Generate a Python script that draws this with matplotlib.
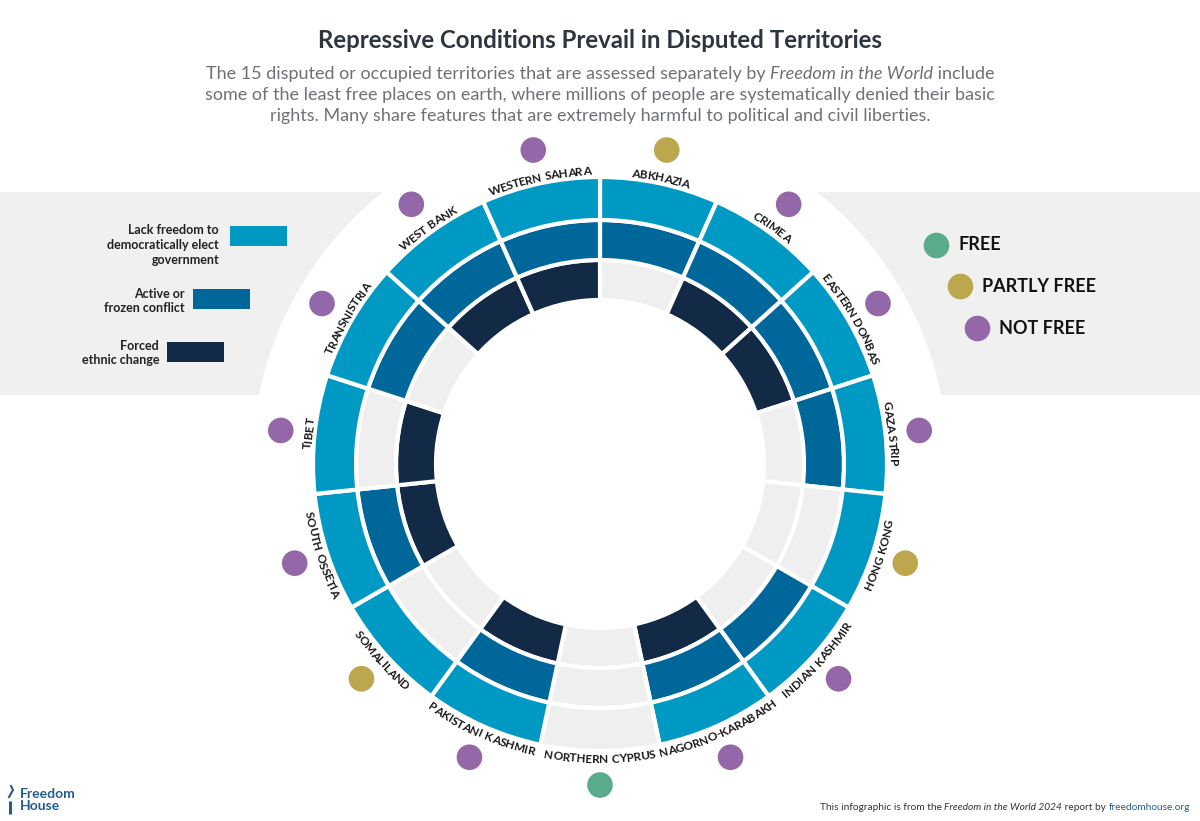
import numpy as np
import matplotlib
matplotlib.use('Agg')
import matplotlib.pyplot as plt
from matplotlib.patches import Rectangle, Circle
from matplotlib.font_manager import FontProperties

FAM = ['Lato', 'DejaVu Sans']
plt.rcParams['font.family'] = FAM

# territories clockwise from 12 o'clock
territories = ['ABKHAZIA', 'CRIMEA', 'EASTERN DONBAS', 'GAZA STRIP', 'HONG KONG',
               'INDIAN KASHMIR', 'NAGORNO-KARABAKH', 'NORTHERN CYPRUS',
               'PAKISTANI KASHMIR', 'SOMALILAND', 'SOUTH OSSETIA', 'TIBET',
               'TRANSNISTRIA', 'WEST BANK', 'WESTERN SAHARA']
lack_freedom = [1, 1, 1, 1, 1, 1, 1, 0, 1, 1, 1, 1, 1, 1, 1]
conflict     = [1, 1, 1, 1, 0, 1, 1, 0, 1, 0, 1, 0, 1, 1, 1]
ethnic       = [0, 1, 1, 0, 0, 0, 1, 0, 1, 0, 1, 1, 0, 1, 1]
status       = ['PF', 'NF', 'NF', 'NF', 'PF', 'NF', 'NF', 'F', 'NF', 'PF',
                'NF', 'NF', 'NF', 'NF', 'NF']

legend_labels = ['Lack freedom to\ndemocratically elect\ngovernment',
                 'Active or\nfrozen conflict', 'Forced\nethnic change']
status_labels = ['FREE', 'PARTLY FREE', 'NOT FREE']

LIGHT, MID, NAVY, GRAY = '#0099c4', '#00679b', '#132a47', '#efefef'
status_col = {'F': '#5aab8c', 'PF': '#bca64e', 'NF': '#9468a8'}

W, H = 1200, 821
cx, cy = 600, 464

fig = plt.figure(figsize=(12, 8.21), dpi=100)
bg = fig.add_axes([0, 0, 1, 1])
bg.set_xlim(0, W); bg.set_ylim(H, 0); bg.axis('off')
bg.add_patch(Rectangle((0, 192), W, 203, color='#f0f0f0', lw=0, zorder=0))
bg.add_patch(Circle((cx, cy), 348, color='white', lw=0, zorder=0))

renderer = fig.canvas.get_renderer()

def adv(s, fp):
    # advance width in pixels (sentinel keeps trailing spaces)
    w1 = renderer.get_text_width_height_descent(s + 'I', fp, ismath=False)[0]
    w0 = renderer.get_text_width_height_descent('I', fp, ismath=False)[0]
    return w1 - w0

def mixed_line(parts, x, y, ha='center', size=13, color='#6d7177'):
    fps = [FontProperties(family=FAM, size=size, style=st, weight=wt) for _, st, wt, _ in parts]
    widths = [adv(t, fp) for (t, _, _, _), fp in zip(parts, fps)]
    total = sum(widths)
    x0 = x - total / 2 if ha == 'center' else x - total
    for (t, st, wt, col), fp, w in zip(parts, fps, widths):
        bg.text(x0, y, t, fontproperties=fp, color=col or color, ha='left', va='center')
        x0 += w

# title and subtitle
bg.text(cx, 40, 'Repressive Conditions Prevail in Disputed Territories',
        fontsize=17.3, fontweight='bold', color='#2d3540', ha='center', va='center')
mixed_line([('The 15 disputed or occupied territories that are assessed separately by ', 'normal', 'normal', None),
            ('Freedom in the World', 'italic', 'normal', None),
            (' include', 'normal', 'normal', None)], cx, 74)
mixed_line([('some of the least free places on earth, where millions of people are systematically denied their basic',
             'normal', 'normal', None)], cx, 95)
mixed_line([('rights. Many share features that are extremely harmful to political and civil liberties.',
             'normal', 'normal', None)], cx, 116)

# left legend
leg_text_x = [219, 185, 159]
leg_text_y = [245, 301, 353]
leg_box = [(230, 226), (193, 289), (167, 342)]
for lab, tx, ty, (bx, by), col in zip(legend_labels, leg_text_x, leg_text_y, leg_box, [LIGHT, MID, NAVY]):
    bg.text(tx, ty, lab, fontsize=9, fontweight='bold', color='#222222',
            ha='right', va='center', linespacing=1.25, multialignment='right')
    bg.add_patch(Rectangle((bx, by), 57, 20, color=col, lw=0))

# right legend
for lab, (dx, dy), key in zip(status_labels, [(936, 245), (960, 286), (977, 328)], ['F', 'PF', 'NF']):
    bg.scatter([dx], [dy], s=340, color=status_col[key], lw=0, zorder=3)
    bg.text(dx + 22, dy, lab, fontsize=13, fontweight='bold', color='#111111',
            ha='left', va='center')

# footer
mixed_line([('This infographic is from the ', 'normal', 'normal', '#333333'),
            ('Freedom in the World 2024', 'italic', 'normal', '#333333'),
            (' report by ', 'normal', 'normal', '#333333'),
            ('freedomhouse.org', 'normal', 'normal', '#1f5e93')], 1190, 808, ha='right', size=7.3)
bg.text(20, 800, 'Freedom\nHouse', fontsize=10, fontweight='bold', color='#235c92',
        ha='left', va='center', linespacing=0.95)
bg.plot([10, 10], [801, 814], color='#235c92', lw=2.2, solid_capstyle='butt')
bg.plot([9, 13, 11], [797, 790, 786], color='#235c92', lw=1.5)

# radial chart
RMAX = 345
pax = fig.add_axes([(cx - RMAX) / W, (H - cy - RMAX) / H, 2 * RMAX / W, 2 * RMAX / H],
                   projection='polar')
pax.set_theta_zero_location('N')
pax.set_theta_direction(-1)
pax.set_ylim(0, RMAX)
pax.set_axis_off()
pax.patch.set_alpha(0)

n = len(territories)
step = 2 * np.pi / n
theta = np.arange(n) * step + step / 2
rings = [(ethnic, 164, 40, NAVY), (conflict, 204, 40, MID), (lack_freedom, 244, 43, LIGHT)]
for flags, bottom, height, col in rings:
    colors = [col if f else GRAY for f in flags]
    pax.bar(theta, height, width=step, bottom=bottom, color=colors,
            edgecolor='white', linewidth=3, align='center')

# dots
pax.scatter(theta, [321] * n, s=340, c=[status_col[s] for s in status], lw=0,
            zorder=4, clip_on=False)

# curved labels, one glyph at a time
lab_fp = FontProperties(family=FAM, size=8.6, weight='bold')
SPACE = 3.6
R_MID = 294

def glyph_w(ch):
    if ch == ' ':
        return SPACE
    return adv(ch, lab_fp) * 0.96

for name, th in zip(territories, theta):
    deg = np.degrees(th)
    flip = 90 < deg < 270
    ws = [glyph_w(ch) for ch in name]
    cum = np.concatenate([[0.0], np.cumsum(ws)])
    total = cum[-1]
    for i, ch in enumerate(name):
        if ch == ' ':
            continue
        off = (cum[i] + cum[i + 1]) / 2 - total / 2
        dth = off / R_MID
        if flip:
            t = th - dth
            r = R_MID + 5
            rot = 180 - np.degrees(t)
        else:
            t = th + dth
            r = R_MID - 5
            rot = -np.degrees(t)
        pax.text(t, r, ch, fontproperties=lab_fp, color='#1a1a1a', ha='center',
                 va='baseline', rotation=rot, rotation_mode='anchor', clip_on=False)

fig.savefig('out.png', dpi=100)
